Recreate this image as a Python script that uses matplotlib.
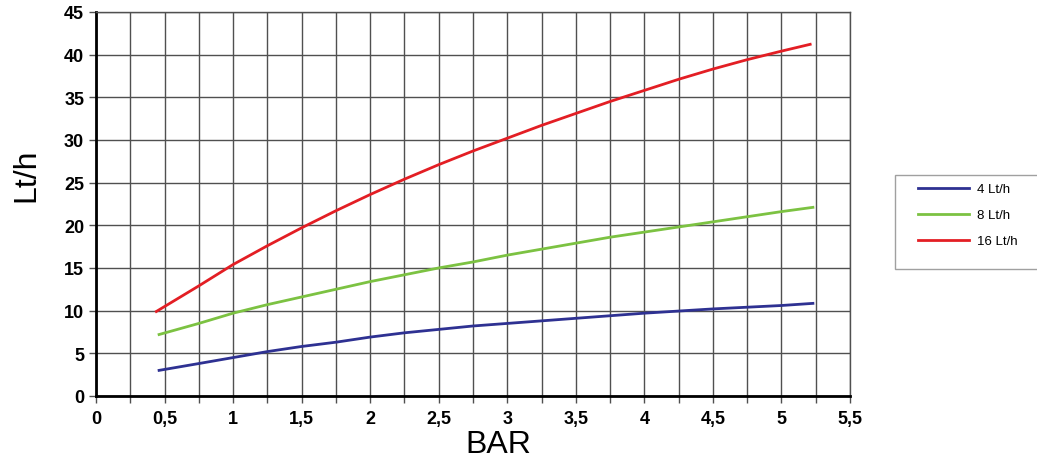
import matplotlib.pyplot as plt
from matplotlib.patches import Rectangle
from matplotlib.ticker import MultipleLocator, FuncFormatter

plt.rcParams['font.family'] = ['Liberation Sans', 'DejaVu Sans']

# Flow rate (Lt/h) vs pressure (BAR)
bar_4 = [0.46, 0.75, 1.0, 1.25, 1.5, 1.75, 2.0, 2.25, 2.5, 2.75, 3.0,
         3.25, 3.5, 3.75, 4.0, 4.25, 4.5, 4.75, 5.0, 5.23]
flow_4 = [3.0, 3.8, 4.5, 5.2, 5.8, 6.3, 6.9, 7.4, 7.8, 8.2, 8.5,
          8.8, 9.1, 9.4, 9.7, 9.95, 10.2, 10.4, 10.6, 10.85]

bar_8 = [0.46, 0.75, 1.0, 1.25, 1.5, 1.75, 2.0, 2.25, 2.5, 2.75, 3.0,
         3.25, 3.5, 3.75, 4.0, 4.25, 4.5, 4.75, 5.0, 5.23]
flow_8 = [7.2, 8.5, 9.7, 10.7, 11.6, 12.5, 13.4, 14.2, 15.0, 15.7, 16.5,
          17.2, 17.9, 18.6, 19.2, 19.8, 20.4, 21.0, 21.6, 22.1]

bar_16 = [0.44, 0.75, 1.0, 1.25, 1.5, 1.75, 2.0, 2.25, 2.5, 2.75, 3.0,
          3.25, 3.5, 3.75, 4.0, 4.25, 4.5, 4.75, 5.0, 5.21]
flow_16 = [9.9, 12.9, 15.4, 17.6, 19.7, 21.7, 23.6, 25.4, 27.1, 28.7, 30.2,
           31.7, 33.1, 34.5, 35.8, 37.1, 38.3, 39.4, 40.4, 41.2]

labels = ['4 Lt/h', '8 Lt/h', '16 Lt/h']
colors = ['#2e3192', '#7cc242', '#e31e24']

fig = plt.figure(figsize=(10.37, 4.6), dpi=100)
ax = fig.add_axes([0.0926, 0.137, 0.727, 0.835])

ax.plot(bar_4, flow_4, color=colors[0], linewidth=2.0, label=labels[0])
ax.plot(bar_8, flow_8, color=colors[1], linewidth=2.0, label=labels[1])
ax.plot(bar_16, flow_16, color=colors[2], linewidth=2.0, label=labels[2])

ax.set_xlim(0, 5.5)
ax.set_ylim(0, 45)
ax.xaxis.set_major_locator(MultipleLocator(0.5))
ax.xaxis.set_minor_locator(MultipleLocator(0.25))
ax.yaxis.set_major_locator(MultipleLocator(5))
ax.xaxis.set_major_formatter(FuncFormatter(lambda v, p: f'{v:g}'.replace('.', ',')))

ax.grid(True, which='both', axis='x', color='#505050', linewidth=1.0)
ax.grid(True, which='major', axis='y', color='#505050', linewidth=1.0)
ax.set_axisbelow(True)

for side in ['top', 'right']:
    ax.spines[side].set_color('#505050')
    ax.spines[side].set_linewidth(1.0)
for side in ['left', 'bottom']:
    ax.spines[side].set_color('black')
    ax.spines[side].set_linewidth(2.0)

ax.tick_params(axis='both', which='both', direction='out', length=5, width=1.0,
               color='#505050', labelsize=13)
ax.tick_params(axis='x', pad=5)
for lbl in ax.get_xticklabels() + ax.get_yticklabels():
    lbl.set_fontweight('bold')

ax.set_xlabel('BAR', fontsize=23)
ax.xaxis.set_label_coords(0.534, -0.087)
ax.set_ylabel('Lt/h', fontsize=23)
ax.yaxis.set_label_coords(-0.073, 0.578)

# legend frame (runs off the right edge like the original)
fig.patches.append(Rectangle((0.863, 0.413), 0.2, 0.204, transform=fig.transFigure,
                             facecolor='white', edgecolor='#a0a0a0', linewidth=1.0))
fig.legend(loc='upper left', bbox_to_anchor=(0.885, 0.600), fontsize=9.5,
           frameon=False, handlelength=3.9, handletextpad=0.6,
           borderpad=0, labelspacing=1.05, borderaxespad=0)

plt.savefig('out.png', dpi=100)
